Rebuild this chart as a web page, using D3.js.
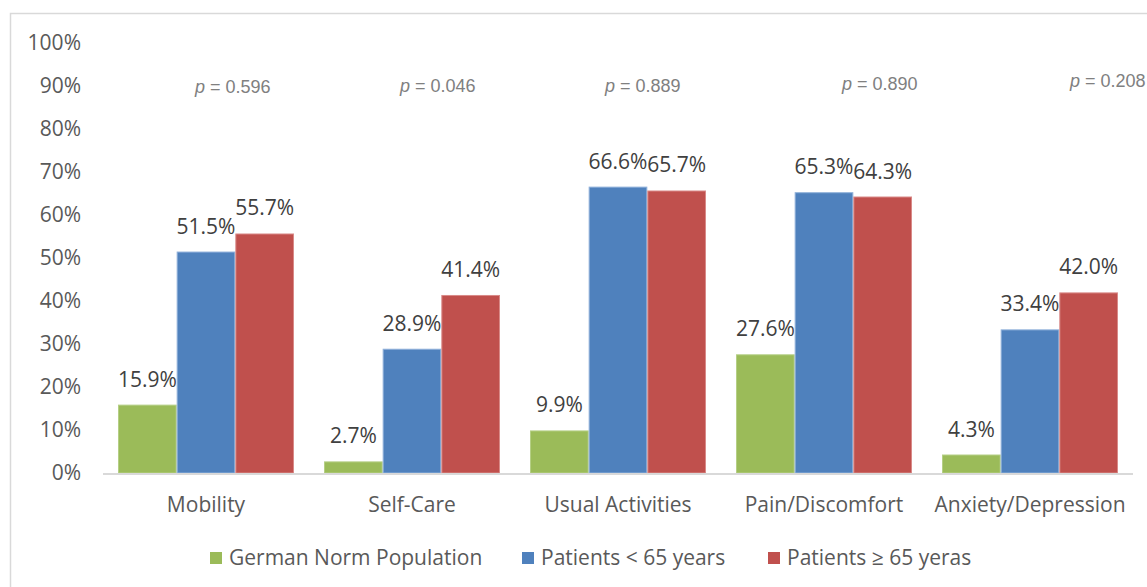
<!DOCTYPE html>
<html>
<head>
<meta charset="utf-8">
<script src="https://cdn.jsdelivr.net/npm/d3@7"></script>
<style>
  html, body { margin: 0; padding: 0; background: #fff; }
  svg { display: block; }
</style>
</head>
<body>
<svg id="chart" width="1147" height="587"></svg>
<script>
// ---- data ----
const categories = ["Mobility", "Self-Care", "Usual Activities", "Pain/Discomfort", "Anxiety/Depression"];
const seriesNames = ["German Norm Population", "Patients < 65 years", "Patients \u2265 65 yeras"];
const germanNorm = [15.9, 2.7, 9.9, 27.6, 4.3];
const patientsUnder65 = [51.5, 28.9, 66.6, 65.3, 33.4];
const patients65Plus = [55.7, 41.4, 65.7, 64.3, 42.0];
const pValues = ["0.596", "0.046", "0.889", "0.890", "0.208"];
const yTicks = [0, 10, 20, 30, 40, 50, 60, 70, 80, 90, 100];

// ---- layout / style ----
const colors = ["#9BBB59", "#4F81BD", "#C0504D"];
const strokeColors = ["#B5CF85", "#8FB0DA", "#D98A88"];
const pLabelDx = [92, 91, 90, 121, 143];   // px from group start
const pLabelY = [93, 92, 92, 90, 87];      // baseline px
const margin = { left: 103, right: 1133, top: 43, bottom: 473 };
const FONT = "'Open Sans', sans-serif";
const FS = 21;

const series = [germanNorm, patientsUnder65, patients65Plus];
const svg = d3.select("#chart");

// frame
svg.append("rect")
  .attr("x", 10.5).attr("y", 13.5)
  .attr("width", 1160).attr("height", 600)
  .attr("fill", "none").attr("stroke", "#D9D9D9").attr("stroke-width", 1.5);

const x0 = d3.scaleBand().domain(categories).range([margin.left, margin.right]).paddingInner(0).paddingOuter(0);
const x1 = d3.scaleBand().domain(d3.range(series.length)).range([15, x0.bandwidth() - 15]);
const y = d3.scaleLinear().domain([0, 100]).range([margin.bottom, margin.top]);

// y axis labels
const yAxis = d3.axisLeft(y).tickValues(yTicks).tickFormat(d => d + "%").tickSize(0).tickPadding(0);
const gy = svg.append("g").attr("transform", "translate(81,0)").call(yAxis);
gy.select(".domain").remove();
gy.selectAll("text")
  .attr("font-family", FONT)
  .attr("font-size", FS)
  .attr("fill", "#595959");

// bars
const groups = svg.append("g").selectAll("g")
  .data(categories)
  .join("g")
  .attr("transform", d => `translate(${x0(d)},0)`);

groups.each(function (cat, ci) {
  const g = d3.select(this);
  series.forEach((s, si) => {
    const v = s[ci];
    g.append("rect")
      .attr("x", x1(si) + 0.5)
      .attr("y", y(v) + 0.5)
      .attr("width", x1.bandwidth() - 1)
      .attr("height", y(0) - y(v) - 0.5)
      .attr("fill", colors[si])
      .attr("stroke", strokeColors[si])
      .attr("stroke-width", 1);
    g.append("text")
      .attr("x", x1(si) + x1.bandwidth() / 2)
      .attr("y", y(v) - 18)
      .attr("text-anchor", "middle")
      .attr("font-family", FONT)
      .attr("font-size", FS)
      .attr("fill", "#404040")
      .text(v.toFixed(1) + "%");
  });
});

// baseline
svg.append("line")
  .attr("x1", margin.left).attr("x2", margin.right)
  .attr("y1", y(0) + 1).attr("y2", y(0) + 1)
  .attr("stroke", "#D9D9D9").attr("stroke-width", 2);

// category axis
const xAxis = d3.axisBottom(x0).tickSize(0).tickPadding(0);
const gx = svg.append("g").attr("transform", `translate(0,${y(0) + 24})`).call(xAxis);
gx.select(".domain").remove();
gx.selectAll("text")
  .attr("font-family", FONT)
  .attr("font-size", FS)
  .attr("fill", "#595959");

// p-values
categories.forEach((cat, i) => {
  const t = svg.append("text")
    .attr("x", x0(cat) + pLabelDx[i])
    .attr("y", pLabelY[i])
    .attr("font-family", "'Liberation Sans', Arial, sans-serif")
    .attr("font-size", 18)
    .attr("fill", "#808080");
  t.append("tspan").attr("font-style", "italic").text("p");
  t.append("tspan").text(" = " + pValues[i]);
});

// legend
const legendX = [210, 522, 768];
const legend = svg.append("g");
seriesNames.forEach((name, i) => {
  legend.append("rect")
    .attr("x", legendX[i]).attr("y", 552)
    .attr("width", 12).attr("height", 12)
    .attr("fill", colors[i]);
  legend.append("text")
    .attr("x", legendX[i] + 19).attr("y", 565)
    .attr("font-family", FONT)
    .attr("font-size", FS)
    .attr("fill", "#595959")
    .text(name);
});
</script>
</body>
</html>
